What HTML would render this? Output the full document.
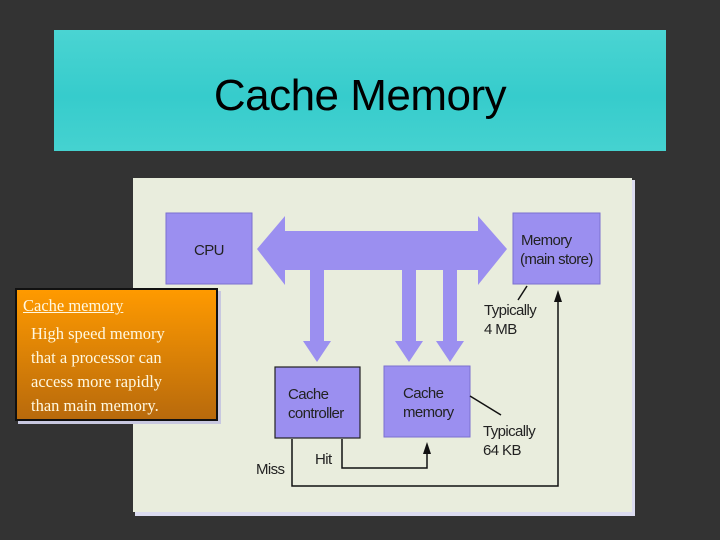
<!DOCTYPE html>
<html><head><meta charset="utf-8"><style>
html,body{margin:0;padding:0}
body{width:720px;height:540px;background:#333333;position:relative;overflow:hidden;font-family:"Liberation Sans",sans-serif}
#title{position:absolute;left:54px;top:30px;width:612px;height:121px;background:linear-gradient(#4ad4d2,#36cccc 55%,#45d2d0);}
#title div{position:absolute;left:0;right:0;top:66px;transform:translateY(-50%);text-align:center;font-size:44px;color:#000;letter-spacing:-0.5px}
#note{position:absolute;left:15px;top:288px;width:199px;height:129px;border:2px solid #111;background:linear-gradient(#ff9a00,#b86a0c);box-shadow:3px 3px 0 #c8c8e0;font-family:"Liberation Serif",serif;color:#fff8e0;font-size:16.5px;line-height:24px}
</style></head><body>
<div id="title"><div>Cache Memory</div></div>
<svg width="720" height="540" style="position:absolute;left:0;top:0">
<rect x="135" y="180" width="500" height="336" fill="#dcdcf0"/>
<rect x="133" y="178" width="499" height="334" fill="#e9eddd"/>
<g fill="#9b8ff0" stroke="#7b70d0" stroke-width="1">
<rect x="166" y="213" width="86" height="71"/>
<rect x="513" y="213" width="87" height="71"/>
</g>
<g fill="#9b8ff0">
<polygon points="257,249 285,216 285,231 478,231 478,216 507,249 478,285 478,270 285,270 285,285"/>
<polygon points="310,270 324,270 324,341 331,341 317,362 303,341 310,341"/>
<polygon points="402,270 416,270 416,341 423,341 409,362 395,341 402,341"/>
<polygon points="443,270 457,270 457,341 464,341 450,362 436,341 443,341"/>
</g>
<g fill="#9b8ff0" stroke="#222" stroke-width="1.2">
<rect x="275" y="367" width="85" height="71"/>
</g>
<rect x="384" y="366" width="86" height="71" fill="#9b8ff0" stroke="#7b70d0"/>
<g fill="none" stroke="#111" stroke-width="1.5">
<polyline points="292,439 292,486 558,486 558,300"/>
<polyline points="342,439 342,468 427,468 427,452"/>
<line x1="527" y1="286" x2="518" y2="300"/>
<line x1="470" y1="396" x2="501" y2="415"/>
</g>
<polygon points="558,290 554,302 562,302" fill="#111"/>
<polygon points="427,442 423,454 431,454" fill="#111"/>
<g font-family="Liberation Sans,sans-serif" font-size="15" fill="#222" letter-spacing="-0.6">
<text x="194" y="255">CPU</text>
<text x="521" y="245">Memory</text>
<text x="520" y="264">(main store)</text>
<text x="288" y="399">Cache</text>
<text x="288" y="418">controller</text>
<text x="403" y="398">Cache</text>
<text x="403" y="417">memory</text>
<text x="484" y="315">Typically</text>
<text x="484" y="334">4 MB</text>
<text x="483" y="436">Typically</text>
<text x="483" y="455">64 KB</text>
<text x="315" y="464">Hit</text>
<text x="256" y="474">Miss</text>
</g>
</svg>
<div id="note">
<div style="margin:4px 0 0 6px;text-decoration:underline">Cache memory</div>
<div style="margin:4px 0 0 14px">High speed memory<br>that a processor can<br>access more rapidly<br>than main memory.</div>
</div>
</body></html>
